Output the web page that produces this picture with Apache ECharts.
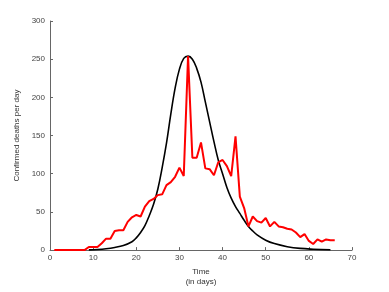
<!DOCTYPE html>
<html><head><meta charset="utf-8">
<script src="https://cdn.jsdelivr.net/npm/echarts@6/dist/echarts.min.js"></script>
<style>html,body{margin:0;padding:0;background:#fff}#c{width:389px;height:292px}</style>
</head><body><div id="c"></div>
<script>
// Observed confirmed deaths per day (red), days 1..66
var obsDays = [1,2,3,4,5,6,7,8,9,10,11,12,13,14,15,16,17,18,19,20,21,22,23,24,25,26,27,28,29,30,31,32,33,34,35,36,37,38,39,40,41,42,43,44,45,46,47,48,49,50,51,52,53,54,55,56,57,58,59,60,61,62,63,64,65,66];
var obsValues = [0,0,0,0,0,0,0,0,4,4,4,9,15,15,25,26,26,37,43,46,44,57,64,67,72,73,85,89,96,108,97,254,121,121,141,107,106,98,115,118,110,97,149,70,55,31,44,38,36,42,31,37,31,30,28,27,23,17,21,12,8,14,11,14,13,13];
// Fitted curve (black)
var fitDays = [9,11,13,15,17,19,20,21,22,23,24,25,26,27,28,29,30,31,32,33,34,35,36,37,38,39,40,41,42,43,44,45,46,47,48,50,52,55,58,61,65];
var fitValues = [0.3,0.8,1.8,3.5,6,11,16,23,32,45,60,80,108,140,178,212,237,251,254,250,238,220,194,168,142,118,100,82,68,57,48,39,31,25,20,13,8.5,4.5,2.2,1.2,0.5];
var xTicks = [0,10,20,30,40,50,60,70];
var yTicks = [0,50,100,150,200,250,300];

var chart = echarts.init(document.getElementById('c'), null, {renderer:'canvas'});
var axisCol = '#666';
var font = 'Liberation Sans, Arial, sans-serif';
chart.setOption({
  animation:false,
  backgroundColor:'#fff',
  grid:{left:50,right:37,top:21,bottom:32,containLabel:false},
  xAxis:{type:'value',min:xTicks[0],max:xTicks[xTicks.length-1],interval:10,
    name:'Time\n(in days)',nameLocation:'middle',nameGap:10,
    nameTextStyle:{color:'#333',fontSize:8,fontFamily:font,lineHeight:10,verticalAlign:'top'},
    axisLine:{lineStyle:{color:axisCol,width:1}},
    axisTick:{inside:true,length:3,lineStyle:{color:axisCol}},
    axisLabel:{color:'#444',fontSize:8,fontFamily:font,margin:4},
    splitLine:{show:false}},
  yAxis:{type:'value',min:yTicks[0],max:yTicks[yTicks.length-1],interval:50,
    name:'Confirmed deaths per day',nameLocation:'middle',nameGap:21,
    nameTextStyle:{color:'#333',fontSize:8,fontFamily:font},
    axisLine:{show:true,lineStyle:{color:axisCol,width:1}},
    axisTick:{show:true,inside:true,length:3,lineStyle:{color:axisCol}},
    axisLabel:{color:'#444',fontSize:8,fontFamily:font,margin:5},
    splitLine:{show:false}},
  series:[
    {type:'line',data:fitDays.map(function(d,i){return [d,fitValues[i]];}),smooth:0.4,showSymbol:false,
      lineStyle:{color:'#000',width:1.6},z:2},
    {type:'line',data:obsDays.map(function(d,i){return [d,obsValues[i]];}),showSymbol:false,
      lineStyle:{color:'#ff0000',width:2},z:3}
  ]
});
</script></body></html>
